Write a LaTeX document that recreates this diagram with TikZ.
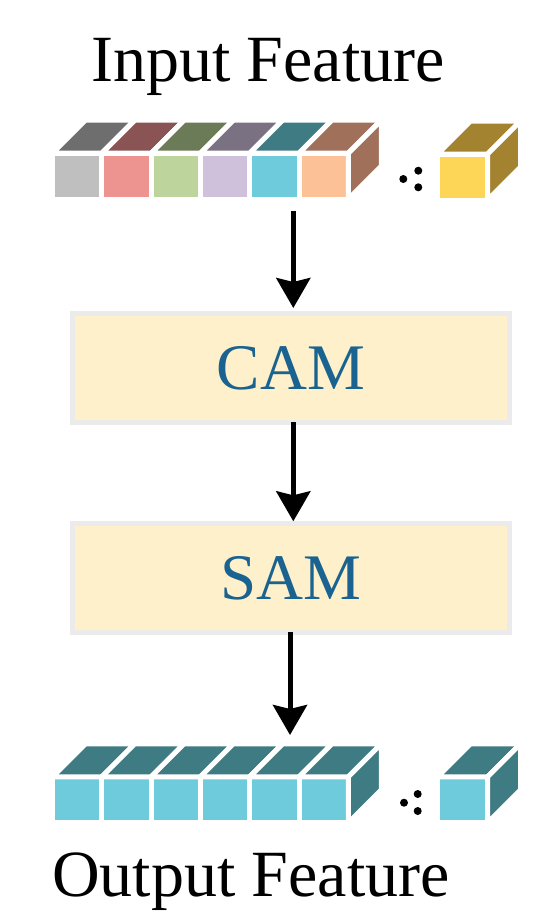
\documentclass[tikz,border=0pt]{standalone}
\usepackage{fontspec}
\setmainfont{Liberation Serif}
\usetikzlibrary{arrows.meta}
\definecolor{boxfill}{HTML}{FDF0CB}
\definecolor{boxline}{HTML}{EBEBEB}
\definecolor{camtxt}{HTML}{1A6390}
\definecolor{fA}{HTML}{BFBFBF}\definecolor{tA}{HTML}{6E6E6E}
\definecolor{fB}{HTML}{EE9490}\definecolor{tB}{HTML}{8B5454}
\definecolor{fC}{HTML}{BDD59C}\definecolor{tC}{HTML}{6B7B58}
\definecolor{fD}{HTML}{CFC1DC}\definecolor{tD}{HTML}{7A7282}
\definecolor{fE}{HTML}{6DCBDB}\definecolor{tE}{HTML}{3F7B82}
\definecolor{fF}{HTML}{FDC197}\definecolor{tF}{HTML}{A0705A}
\definecolor{fY}{HTML}{FDD657}\definecolor{tY}{HTML}{A3832F}
\tikzset{
  face/.style={draw=white, line width=5pt, line join=round},
  blockbox/.style={draw=boxline, fill=boxfill, line width=5pt, minimum width=436.7pt,
    minimum height=109pt, inner sep=0pt, text=camtxt, font=\fontsize{65}{70}\selectfont},
  flow/.style={-{Stealth[length=30pt,width=34pt,inset=4pt]}, line width=5pt},
  dotmark/.style={fill=black, circle, inner sep=0pt, minimum size=8pt},
  title/.style={anchor=base, font=\fontsize{66}{70}\selectfont}
}
% #1 x, #2 ytop, #3 width, #4 front, #5 top
\newcommand{\cubefront}[5]{%
  \filldraw[face, fill=#4] (#1,#2) rectangle ++(#3,46);
  \filldraw[face, fill=#5] (#1,#2) -- ++(#3,0) -- ++(33,-33) -- ++(-#3,0) -- cycle;}
% #1 x of right edge, #2 ytop, #3 colour
\newcommand{\cubeside}[3]{%
  \filldraw[face, fill=#3] (#1,#2) -- ++(33,-33) -- ++(0,46) -- ++(-33,33) -- cycle;}
\begin{document}
\begin{tikzpicture}[x=1pt, y=-1pt]
\useasboundingbox (0,0) rectangle (550,918);
% titles
\node[title] (tin) at (268,81.7) {Input Feature};
\node[title] (tout) at (251,896.7) {Output Feature};
% input row
\cubefront{52.5}{153.2}{49.3}{fA}{tA}
\cubefront{101.8}{153.2}{49.3}{fB}{tB}
\cubefront{151.1}{153.2}{49.3}{fC}{tC}
\cubefront{200.4}{153.2}{49.3}{fD}{tD}
\cubefront{249.7}{153.2}{49.3}{fE}{tE}
\cubefront{299.0}{153.2}{49.3}{fF}{tF}
\cubeside{348.3}{153.2}{tF}
\node[dotmark] (d1) at (403.3,179) {};
\node[dotmark] (d2) at (418.3,170.7) {};
\node[dotmark] (d3) at (418.3,187.3) {};
\cubefront{437.5}{154.2}{50}{fY}{tY}
\cubeside{487.5}{154.2}{tY}
% output row
\cubefront{52.5}{776.8}{49.3}{fE}{tE}
\cubefront{101.8}{776.8}{49.3}{fE}{tE}
\cubefront{151.1}{776.8}{49.3}{fE}{tE}
\cubefront{200.4}{776.8}{49.3}{fE}{tE}
\cubefront{249.7}{776.8}{49.3}{fE}{tE}
\cubefront{299.0}{776.8}{49.3}{fE}{tE}
\cubeside{348.3}{776.8}{tE}
\node[dotmark] (e1) at (404,802.7) {};
\node[dotmark] (e2) at (417.7,794) {};
\node[dotmark] (e3) at (417.7,811) {};
\cubefront{437.5}{776.8}{50}{fE}{tE}
\cubeside{487.5}{776.8}{tE}
% blocks
\node[blockbox] (cam) at (290.8,368) {CAM};
\node[blockbox] (sam) at (290.8,578.3) {SAM};
% connectors
\coordinate (inrow) at (293.3,210.7);
\coordinate (outrow) at (290,735);
\draw[flow] (inrow) -- ([yshift=3pt]cam.north -| inrow);
\draw[flow] ([yshift=3pt]cam.south -| inrow) -- (sam.north -| inrow);
\draw[flow] ([yshift=3pt]sam.south -| outrow) -- (outrow);
\end{tikzpicture}
\end{document}
